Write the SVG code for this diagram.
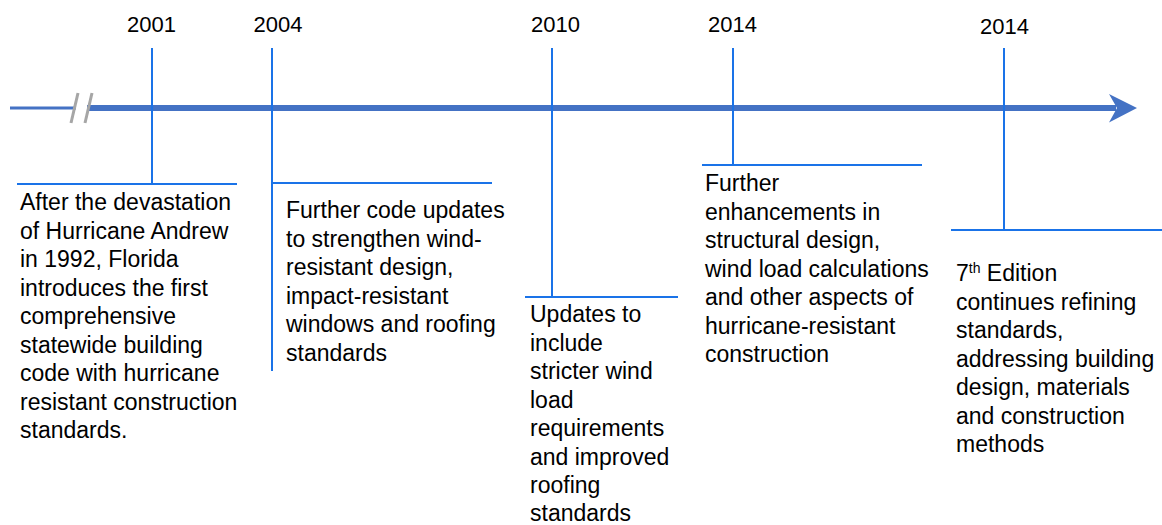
<svg xmlns="http://www.w3.org/2000/svg" width="1162" height="525" viewBox="0 0 1162 525">
<style>
.yr{font-family:"Liberation Sans",Arial,sans-serif;font-size:22px;fill:#000;text-anchor:middle}
.tx{font-family:"Liberation Sans",Arial,sans-serif;font-size:23px;fill:#000}
.tick{stroke:#1a73e8;stroke-width:2;fill:none}
</style>
<rect width="1162" height="525" fill="#fff"/>
<g id="timeline">
<line x1="10" y1="108" x2="76" y2="108" stroke="#4472c4" stroke-width="3"/>
<line x1="87" y1="108" x2="1116" y2="108" stroke="#4472c4" stroke-width="6"/>
<polygon points="1109,94 1137,108 1109,122.5 1117,108" fill="#4472c4"/>
<line x1="78" y1="93" x2="71" y2="123" stroke="#a6a6a6" stroke-width="3"/>
<line x1="92" y1="93" x2="85" y2="123" stroke="#a6a6a6" stroke-width="3"/>
</g>
<g id="connectors">
<path class="tick" d="M152,48V184M17,184H237"/>
<path class="tick" d="M272,48V371M272,183H492"/>
<path class="tick" d="M552,48V297M525,297H678"/>
<path class="tick" d="M733,48V165M702,165H922"/>
<path class="tick" d="M1004,48V230M951,230H1162"/>
</g>
<g id="n2001">
<text class="yr" x="151.5" y="32">2001</text>
<text class="tx">
<tspan x="20" y="210">After the devastation</tspan>
<tspan x="20" y="238.5">of Hurricane Andrew</tspan>
<tspan x="20" y="267">in 1992, Florida</tspan>
<tspan x="20" y="295.5">introduces the first</tspan>
<tspan x="20" y="324">comprehensive</tspan>
<tspan x="20" y="352.5">statewide building</tspan>
<tspan x="20" y="381">code with hurricane</tspan>
<tspan x="20" y="409.5">resistant construction</tspan>
<tspan x="20" y="438">standards.</tspan>
</text>
</g>
<g id="n2004">
<text class="yr" x="278" y="32">2004</text>
<text class="tx">
<tspan x="286" y="218">Further code updates</tspan>
<tspan x="286" y="246.5">to strengthen wind-</tspan>
<tspan x="286" y="275">resistant design,</tspan>
<tspan x="286" y="303.5">impact-resistant</tspan>
<tspan x="286" y="332">windows and roofing</tspan>
<tspan x="286" y="360.5">standards</tspan>
</text>
</g>
<g id="n2010">
<text class="yr" x="555.5" y="32">2010</text>
<text class="tx">
<tspan x="530" y="322">Updates to</tspan>
<tspan x="530" y="350.5">include</tspan>
<tspan x="530" y="379">stricter wind</tspan>
<tspan x="530" y="407.5">load</tspan>
<tspan x="530" y="436">requirements</tspan>
<tspan x="530" y="464.5">and improved</tspan>
<tspan x="530" y="493">roofing</tspan>
<tspan x="530" y="521">standards</tspan>
</text>
</g>
<g id="n2014a">
<text class="yr" x="732.5" y="32">2014</text>
<text class="tx">
<tspan x="705" y="191">Further</tspan>
<tspan x="705" y="219.5">enhancements in</tspan>
<tspan x="705" y="248">structural design,</tspan>
<tspan x="705" y="276.5">wind load calculations</tspan>
<tspan x="705" y="305">and other aspects of</tspan>
<tspan x="705" y="333.5">hurricane-resistant</tspan>
<tspan x="705" y="362">construction</tspan>
</text>
</g>
<g id="n2014b">
<text class="yr" x="1004.5" y="33.5">2014</text>
<text class="tx" x="956" y="281">7<tspan font-size="14" dy="-8">th</tspan><tspan dy="8"> Edition</tspan></text>
<text class="tx">
<tspan x="956" y="309.5">continues refining</tspan>
<tspan x="956" y="338">standards,</tspan>
<tspan x="956" y="366.5">addressing building</tspan>
<tspan x="956" y="395">design, materials</tspan>
<tspan x="956" y="423.5">and construction</tspan>
<tspan x="956" y="452">methods</tspan>
</text>
</g>
</svg>
